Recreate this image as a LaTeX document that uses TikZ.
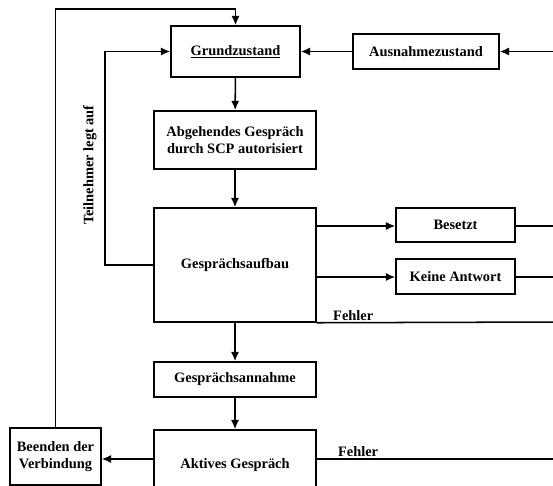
\documentclass[tikz,border=0pt]{standalone}
\usepackage{fontspec}
\setmainfont{Liberation Serif}
\usepackage{amsmath}
\usetikzlibrary{arrows.meta}

\tikzset{
  zbox/.style={draw, line width=1.3pt, align=center, inner sep=2pt,
    font=\fontsize{12.3}{14.5}\selectfont\bfseries},
  lbl/.style={font=\fontsize{12.3}{14.5}\selectfont\bfseries, inner sep=1pt},
  >={Latex[length=2.8mm,width=2.4mm]},
}

\begin{document}
\begin{tikzpicture}[x=0.03cm, y=-0.03cm, line width=1.3pt]
				\clip (0,0) rectangle (553,486);
				\node[zbox, minimum width=3.87cm, minimum height=1.53cm] (grund) at (235.5, 51.5) {\underline{Grundzustand}};
				\node[zbox, minimum width=4.38cm, minimum height=1.05cm] (ausn) at (426, 51.5) {Ausnahmezustand};
				\node[zbox, minimum width=4.86cm, minimum height=1.74cm] (abgeh) at (235, 140) {Abgehendes Gespräch\\durch SCP autorisiert};
				\node[zbox, minimum width=4.86cm, minimum height=3.42cm] (aufbau) at (235, 265) {Gesprächsaufbau};
				\node[zbox, minimum width=3.57cm, minimum height=1.02cm] (besetzt) at (455.5, 225) {Besetzt};
				\node[zbox, minimum width=3.57cm, minimum height=1.05cm] (keine) at (455.5, 276.5) {Keine Antwort};
				\node[zbox, minimum width=4.86cm, minimum height=1.05cm] (annahme) at (235, 379.5) {Gesprächsannahme};
				\node[zbox, minimum width=4.86cm, minimum height=2.1cm] (aktiv) at (235, 465) {Aktives Gespräch};
				\node[zbox, minimum width=2.73cm, minimum height=1.71cm] (beenden) at (55.5, 456.5) {Beenden der\\Verbindung};
				% free ends at the right margin
				\coordinate (rA) at (560, 51.5);
				\coordinate (rB) at (560, 226);
				\coordinate (rK) at (560, 277);
				\coordinate (rF) at (560, 322);
				\coordinate (rE) at (560, 459);
				% main chain
				\draw[->] (grund) to (abgeh);
				\draw[->] (abgeh) to (aufbau);
				\draw[->] (aufbau) to (annahme);
				\draw[->] (annahme) to (aktiv);
				\draw[->] (aktiv.west |- 0,459) to (beenden.east |- 0,459);
				\draw[->] (beenden.north) |- (55, 9) -| (grund.north);
				\draw[->] (aufbau.west) -- (105, 265) |- (grund.west);
				\node[lbl, rotate=90] (legt) at (90, 165) {Teilnehmer legt auf};
				\draw[->] (ausn) to (grund);
				\draw[->] (rA) to (ausn);
				\draw[->] (aufbau.east |- rB) to (besetzt.west |- rB);
				\draw (besetzt.east |- rB) to (rB);
				\draw[->] (aufbau.east |- rK) to (keine.west |- rK);
				\draw (keine.east |- rK) to (rK);
				\draw (aufbau.south east) to node[lbl, above, pos=0.15] {Fehler} (rF);
				\draw (aktiv.east |- rE) to node[lbl, above, pos=0.17] {Fehler} (rE);
			\end{tikzpicture}
\end{document}
